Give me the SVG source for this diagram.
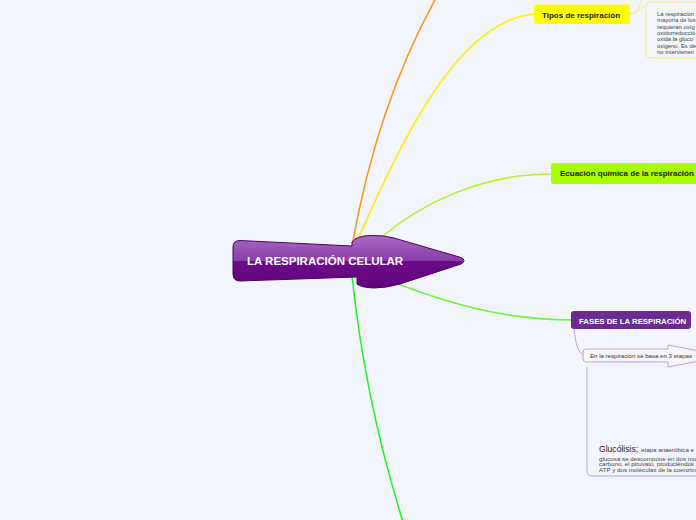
<svg xmlns="http://www.w3.org/2000/svg" width="696" height="520" viewBox="0 0 696 520">
  <defs>
    <linearGradient id="gMain" x1="0" y1="235" x2="0" y2="288" gradientUnits="userSpaceOnUse">
      <stop offset="0" stop-color="#a96bc0"/>
      <stop offset="0.48" stop-color="#8b3eaa"/>
      <stop offset="0.5" stop-color="#6c0b88"/>
      <stop offset="1" stop-color="#63037c"/>
    </linearGradient>
    <style>
      .conn { fill: none; stroke-width: 1.6; stroke-linecap: round; }
      .thin { fill: none; stroke-width: 1; }
      .lbl { font-family: "Liberation Sans", Arial, sans-serif; font-weight: bold; font-size: 8px; fill: #1a1a1a; }
      .small { font-family: "Liberation Sans", Arial, sans-serif; font-size: 5.9px; fill: #444; }
      .gsmall { font-family: "Liberation Sans", Arial, sans-serif; font-size: 6.2px; fill: #444; }
    </style>
  </defs>
  <rect x="0" y="0" width="696" height="520" fill="#f2f5fc"/>

  <g id="connectors">
    <path class="conn" stroke="#fb9a26" d="M352,246 Q377,105 436,-2"/>
    <path class="conn" stroke="#ffee11" d="M355,245 C390,170 450,20 535,14"/>
    <path class="conn" stroke="#b5f22c" d="M383,236 C420,205 480,174 551,174"/>
    <path class="conn" stroke="#6cf53a" d="M398,284 C440,300 500,320 571,320"/>
    <path class="conn" stroke="#2ff22f" d="M352,276 Q365,400 403,522"/>
    <path class="thin" stroke="#f3ec7a" d="M630,14 C638,14 640,7 646,6"/>
    <path class="thin" stroke="#f3ec7a" d="M630,14 C638,14 640,3 643,-2"/>
    <path class="thin" stroke="#b9a6d6" d="M574,329 C576,345 578,353 584,355"/>
  </g>

  <g id="central">
    <path d="M240,240.5 L352,246 L352,242 Q356,236 370,235.5 Q384,235 394,238 L461,257.5 Q467,260.5 461,264 L400,284 Q386,288 374,288 Q361,287.5 357,284 L357,277 L240,281 Q233,281 233,274 L233,247 Q233,240.5 240,240.5 Z" fill="url(#gMain)" stroke="#4b0066" stroke-width="1"/>
    <text x="247" y="264.5" font-family="Liberation Sans, Arial, sans-serif" font-weight="bold" font-size="11.5" fill="#ffffff">LA RESPIRACIÓN CELULAR</text>
  </g>

  <g id="tipos">
    <rect x="534" y="4.5" width="96" height="19.5" rx="3" fill="#ffff00"/>
    <text class="lbl" x="542" y="17.5">Tipos de respiración</text>
  </g>

  <g id="tipos-texto">
    <path class="thin" stroke="#f3ec7a" d="M696,2 H650 Q646,2 646,6 V53 Q646,58 651,58 H696"/>
    <text class="small" x="657" y="16">La respiración</text>
    <text class="small" x="657" y="22.3">mayoría de los</text>
    <text class="small" x="657" y="28.6">requieran oxíg</text>
    <text class="small" x="657" y="34.9">oxidorreducció</text>
    <text class="small" x="657" y="41.2">oxida la gluco</text>
    <text class="small" x="657" y="47.5">oxigeno. Es de</text>
    <text class="small" x="657" y="53.8">no intervienen</text>
  </g>

  <g id="ecuacion">
    <rect x="551" y="163" width="160" height="21" rx="3" fill="#aaff00"/>
    <text class="lbl" x="560" y="176">Ecuación química de la respiración</text>
  </g>

  <g id="fases">
    <rect x="571" y="311" width="120" height="18" rx="3" fill="#6c2b90"/>
    <text x="579" y="323.5" font-family="Liberation Sans, Arial, sans-serif" font-weight="bold" font-size="7.8" fill="#ffffff">FASES DE LA RESPIRACIÓN</text>
  </g>

  <g id="etapas">
    <path d="M586,349 H668 L668,345 L725,356 L668,367 L668,362 H586 Q583,362 583,359 V352 Q583,349 586,349 Z" fill="#f7f6fc" stroke="#b9a6d6" stroke-width="1"/>
    <text x="590" y="358" font-family="Liberation Sans, Arial, sans-serif" font-size="6.1" fill="#333">En la respiración se basa en 3 etapas</text>
  </g>

  <g id="glucolisis">
    <path class="thin" stroke="#b9a6d6" d="M587,367 V471 Q587,476 592,476 H700"/>
    <text x="599" y="452" font-family="Liberation Sans, Arial, sans-serif" font-size="8.6" fill="#222">Glucólisis;</text>
    <text class="gsmall" x="641" y="452">etapa anaeróbica e</text>
    <text class="gsmall" x="599" y="460.5">glucosa se descompone en dos mo</text>
    <text class="gsmall" x="599" y="466.3">carbono, el piruvato, produciéndos</text>
    <text class="gsmall" x="599" y="472">ATP y dos moléculas de la coenzim</text>
  </g>
</svg>
